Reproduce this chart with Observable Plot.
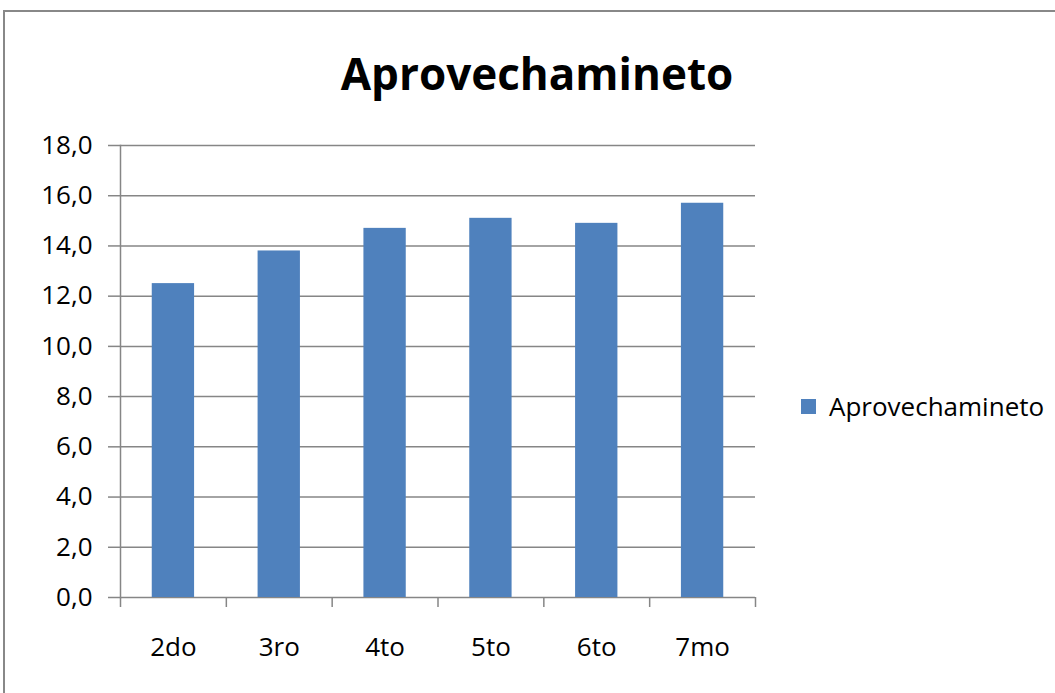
<!DOCTYPE html>
<html>
<head>
<meta charset="utf-8">
<script src="https://cdn.jsdelivr.net/npm/d3@7"></script>
<script src="https://cdn.jsdelivr.net/npm/@observablehq/plot@0.6"></script>
<style>
  html, body { margin: 0; padding: 0; background: #fff; }
  body { width: 1055px; height: 693px; position: relative; overflow: hidden; font-family: "Open Sans", sans-serif; }
  #frame { position: absolute; left: 3px; top: 10px; width: 1100px; height: 720px; border: 2px solid #888888; box-sizing: border-box; }
  #title { position: absolute; left: 0; width: 1074px; top: 51px; text-align: center; font: bold 44px/44px "Open Sans", sans-serif; color: #000; }
  #chart { position: absolute; left: 0; top: 0; }
  #legend { position: absolute; left: 801px; top: 388px; }
</style>
</head>
<body>
<div id="frame"></div>
<div id="title">Aprovechamineto</div>
<div id="chart"></div>
<div id="legend"></div>
<script>
const grades = ["2do", "3ro", "4to", "5to", "6to", "7mo"];
const values = [12.5, 13.8, 14.7, 15.1, 14.9, 15.7];
const yTicks = [0, 2, 4, 6, 8, 10, 12, 14, 16, 18];
const seriesName = "Aprovechamineto";
const barColor = "#4F81BD";
const gridColor = "#868686";

const data = grades.map((g, i) => ({grade: g, value: values[i]}));

const W = 780, H = 680;
const mL = 120, mR = W - 755, mT = 145, mB = H - 597;
const band = (W - mL - mR) / grades.length;
const barW = band * 0.4;
const inset = (band - barW) / 2;
const fmt = d => d3.format(".1f")(d).replace(".", ",");

const chart = Plot.plot({
  width: W,
  height: H,
  marginLeft: mL,
  marginRight: mR,
  marginTop: mT,
  marginBottom: mB,
  style: {fontFamily: "'Open Sans', sans-serif", fontSize: "26px", color: "#000", background: "transparent", overflow: "visible"},
  x: {domain: grades, padding: 0, round: false},
  y: {domain: [0, 18]},
  marks: [
    Plot.gridY(yTicks, {stroke: gridColor, strokeOpacity: 1, strokeWidth: 1.5}),
    Plot.barY(data, {x: "grade", y: "value", fill: barColor, insetLeft: inset, insetRight: inset}),
    Plot.frame({anchor: "left", stroke: gridColor, strokeWidth: 1.5}),
    Plot.axisY({ticks: yTicks, tickFormat: fmt, tickSize: 12, tickPadding: 16, stroke: gridColor, strokeWidth: 1.5, label: null}),
    Plot.axisX({text: null, tickSize: 10, dx: -band / 2, stroke: gridColor, strokeWidth: 1.5, label: null}),
    Plot.axisX({ticks: [grades[grades.length - 1]], text: null, tickSize: 10, dx: band / 2, stroke: gridColor, strokeWidth: 1.5, label: null}),
    Plot.axisX({tickSize: 0, tickPadding: 40, label: null})
  ]
});
document.getElementById("chart").appendChild(chart);

const legend = Plot.legend({
  color: {type: "ordinal", domain: [seriesName], range: [barColor]},
  legend: "swatches",
  swatchSize: 15,
  style: {fontFamily: "'Open Sans', sans-serif", fontSize: "26px", color: "#000"}
});
document.getElementById("legend").appendChild(legend);
</script>
</body>
</html>
